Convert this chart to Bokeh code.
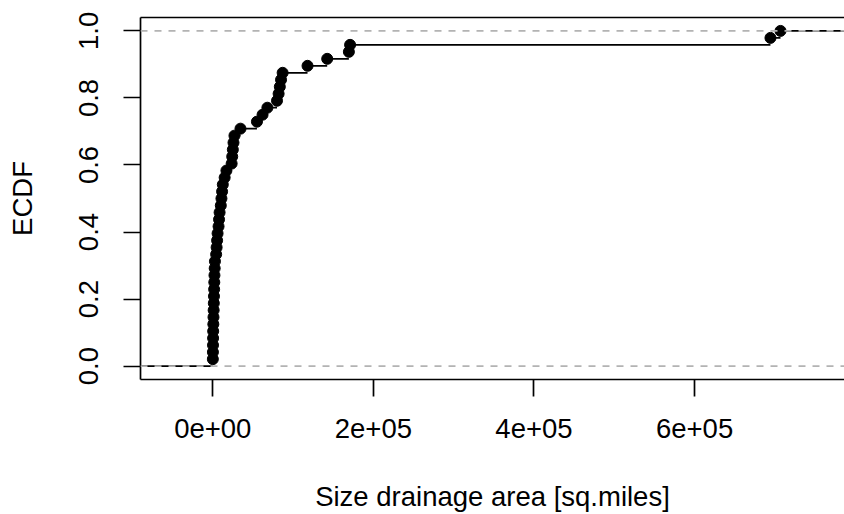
from bokeh.plotting import figure
from bokeh.models import FixedTicker, LinearAxis, Span, Range1d, ColumnDataSource
from bokeh.embed import file_html
from bokeh.resources import INLINE

# ---- data: drainage areas (sorted) ----
area = [100, 200, 300, 400, 500, 700, 900, 1100, 1300, 1500,
        1700, 1900, 2100, 2400, 2700, 4200, 4800, 5400, 6000, 7200,
        7800, 8500, 10000, 10800, 11600, 12500, 14800, 17000, 23500, 24200,
        25000, 25800, 27000, 34500, 55000, 62000, 68000, 80000, 82000, 83500,
        85000, 87000, 118000, 142500, 169500, 171000, 694500, 707000]

x_ticks = [0, 200000, 400000, 600000]
x_tick_labels = ["0e+00", "2e+05", "4e+05", "6e+05"]
y_ticks = [0.0, 0.2, 0.4, 0.6, 0.8, 1.0]
y_tick_labels = ["0.0", "0.2", "0.4", "0.6", "0.8", "1.0"]

x_label = "Size drainage area [sq.miles]"
y_label = "ECDF"

n = len(area)
fn = [(i + 1) / n for i in range(n)]

# view limits (R-style extended range, right side cropped as in the original)
x_start, x_end = -90000, 786700
y_start, y_end = -0.04, 1.04

FONT = "Liberation Sans"
FS = "27.5px"
LW = 1.7

p = figure(width=844, height=514, output_backend="svg", toolbar_location=None,
           x_range=Range1d(x_start, x_end), y_range=Range1d(y_start, y_end),
           min_border_left=140, min_border_right=0, min_border_top=17,
           min_border_bottom=135)
p.outline_line_color = None
p.xgrid.visible = False
p.ygrid.visible = False
p.background_fill_color = "white"
p.border_fill_color = "white"

# horizontal step segments (no verticals), extending past the view on both ends
far = (x_end - x_start)
seg_x0 = [x_start - far] + area
seg_x1 = area + [x_end + far]
seg_y = [0.0] + fn
p.segment(x0=seg_x0, y0=seg_y, x1=seg_x1, y1=seg_y, line_color="black", line_width=LW)

src = ColumnDataSource(dict(x=area, y=fn))
p.scatter("x", "y", source=src, size=11, fill_color="black", line_color="black")

for loc in (0.0, 1.0):
    p.add_layout(Span(location=loc, dimension="width", line_color="#B3B3B3",
                      line_dash="7 7", line_width=LW))

# axes
xa = p.xaxis[0]
xa.ticker = FixedTicker(ticks=x_ticks)
xa.major_label_overrides = {t: l for t, l in zip(x_ticks, x_tick_labels)}
ya = p.yaxis[0]
ya.ticker = FixedTicker(ticks=y_ticks)
ya.major_label_overrides = {t: l for t, l in zip(y_ticks, y_tick_labels)}
ya.major_label_orientation = "vertical"

for ax in (xa, ya):
    ax.axis_line_color = "black"
    ax.axis_line_width = LW
    ax.major_tick_line_color = "black"
    ax.major_tick_line_width = LW
    ax.major_tick_out = 17
    ax.major_tick_in = 0
    ax.minor_tick_line_color = None
    ax.major_label_text_font = FONT
    ax.major_label_text_font_size = FS
    ax.major_label_text_color = "black"
    ax.axis_label_text_font = FONT
    ax.axis_label_text_font_size = FS
    ax.axis_label_text_font_style = "normal"
    ax.axis_label_text_color = "black"

xa.axis_label = x_label
xa.major_label_standoff = 22
xa.axis_label_standoff = 40
ya.axis_label = y_label
ya.major_label_standoff = 25
ya.axis_label_standoff = 39

top_ax = LinearAxis(ticker=FixedTicker(ticks=[]), major_label_text_font_size="0px",
                    major_tick_line_color=None, minor_tick_line_color=None,
                    axis_line_color="black", axis_line_width=LW,
                    major_tick_out=0, major_tick_in=0, major_label_standoff=0)
p.add_layout(top_ax, "above")

open("out.html", "w").write(file_html(p, INLINE))
